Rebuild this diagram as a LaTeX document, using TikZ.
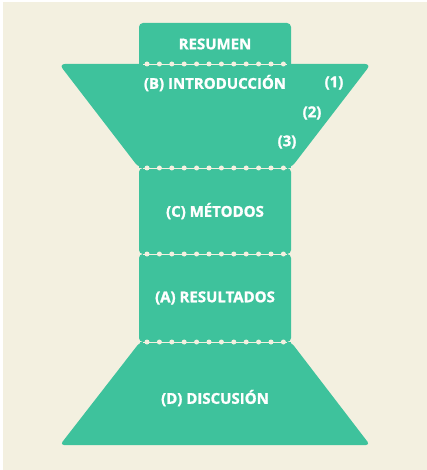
\documentclass[tikz,border=0pt]{standalone}
\usepackage{fontspec}
\setmainfont{Open Sans}[BoldFeatures={FakeBold=1.2}]
\definecolor{bg}{HTML}{F3F0E0}
\definecolor{grn}{HTML}{3EC29C}
\begin{document}
\begin{tikzpicture}[x=1pt,y=-1pt,
  gshape/.style={fill=grn,rounded corners=4pt},
  lbl/.style={text=white,font=\fontsize{15}{17}\selectfont\bfseries,inner sep=0pt},
  seam/.style={draw=bg,line width=0.7pt}]
\useasboundingbox (0,0) rectangle (427,470);
\fill[white] (0,0) rectangle (427,470);
\fill[bg] (3,2) rectangle (427,470);
% shapes
\fill[gshape] (139,70) -- (139,23) -- (291,23) -- (291,70) -- cycle;
\fill[grn] (139,60) rectangle (291,64);
\fill[fill=grn,rounded corners=6pt] (59,64) -- (371,64) -- (291,168) -- (139,168) -- cycle;
\fill[grn] (139,150) rectangle (291,168);
\fill[gshape] (139,168) rectangle (291,254);
\fill[gshape] (139,254) rectangle (291,342);
\fill[fill=grn,rounded corners=4pt] (140,342) -- (291,342) -- (370,445) -- (60,445) -- cycle;
\fill[grn] (140,342) rectangle (291,350);
% seams
\foreach \y in {64,168,254,342}{
  \draw[seam] (143,\y) -- (287,\y);
  \foreach \i in {0,...,11}{
    \fill[bg] (147+12.4*\i,\y) circle (2.5);
  }
}
% labels
\node[lbl] (resumen) at (215,44) {RESUMEN};
\node[lbl] (intro) at (215,83) {(B) INTRODUCCIÓN};
\node[lbl] (n1) at (334,83) {(1)};
\node[lbl] (n2) at (312,113) {(2)};
\node[lbl] (n3) at (287,142) {(3)};
\node[lbl] (metodos) at (215,211) {(C) MÉTODOS};
\node[lbl] (resultados) at (215,298) {(A) RESULTADOS};
\node[lbl] (discusion) at (215,398) {(D) DISCUSIÓN};
\end{tikzpicture}
\end{document}
